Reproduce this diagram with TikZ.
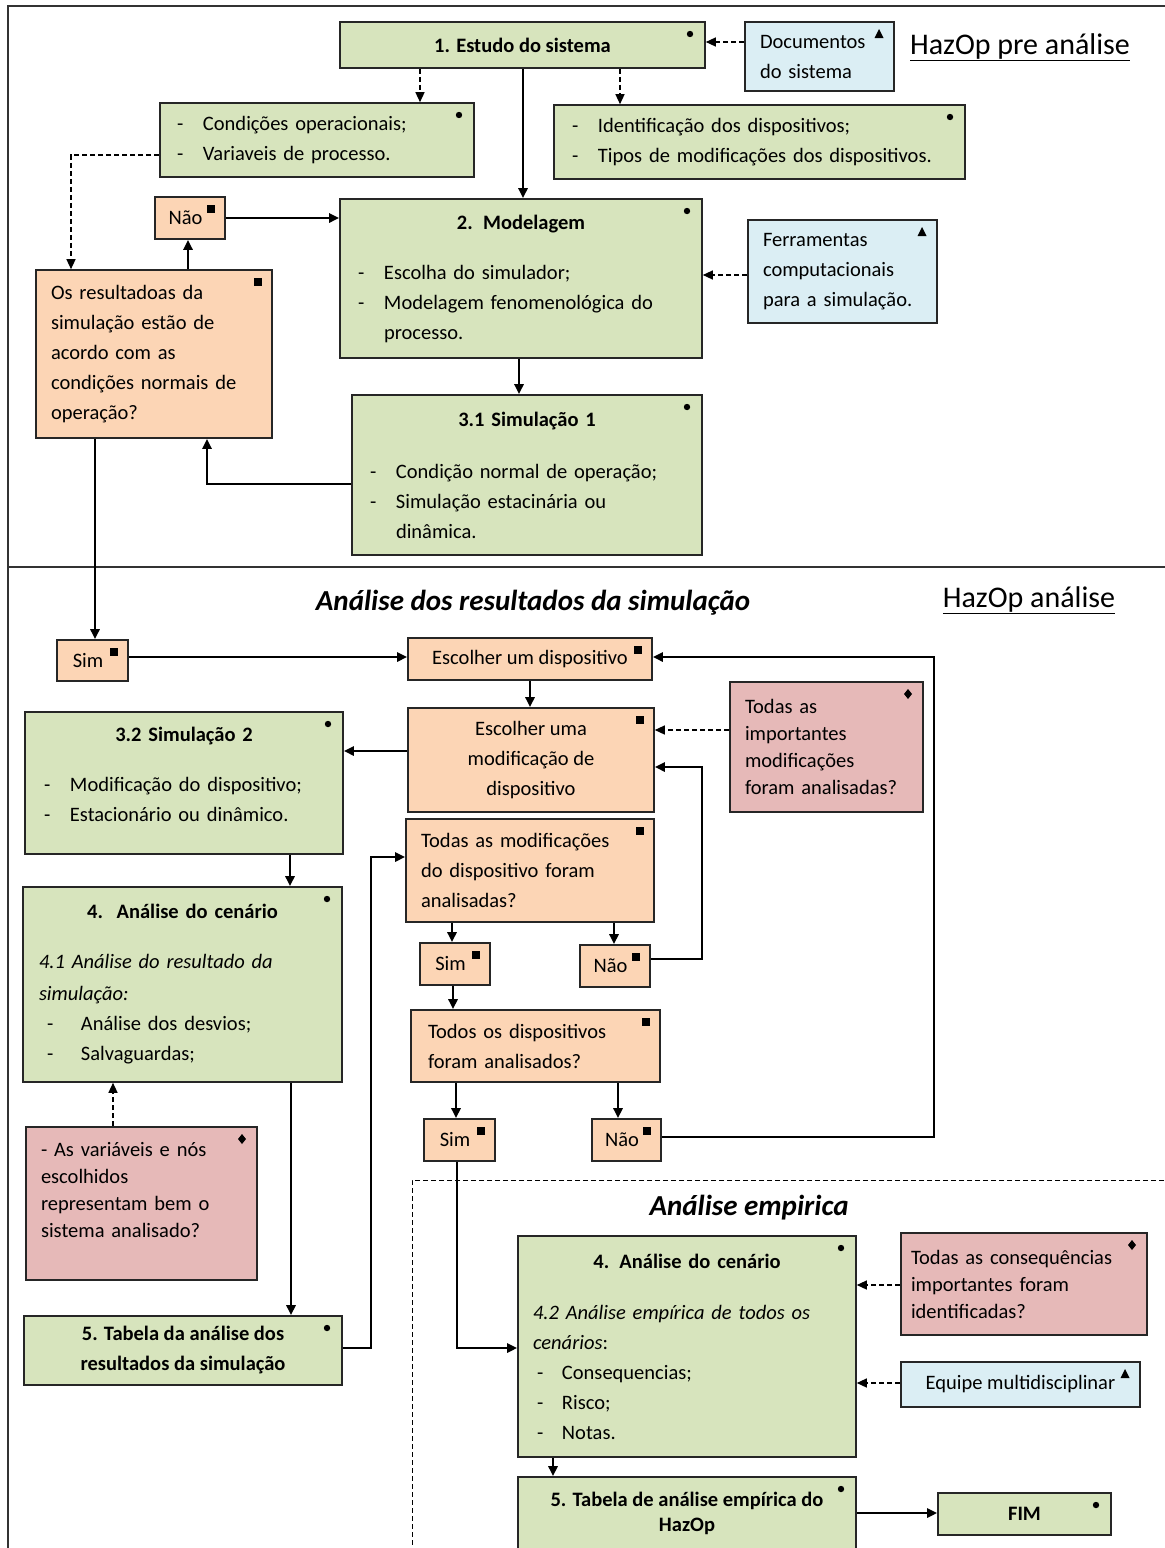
\documentclass[tikz,border=0pt]{standalone}
\usepackage{fontspec}
\setmainfont{Carlito}
\usepackage{tikz}
\usetikzlibrary{arrows.meta}

\definecolor{verdef}{HTML}{D7E4BD}
\definecolor{laranjaf}{HTML}{FCD5B5}
\definecolor{rosaf}{HTML}{E6B9B8}
\definecolor{azulf}{HTML}{DBEEF4}

\newcommand{\boxfont}{\fontsize{20.5}{30}\selectfont}
\newcommand{\titfont}{\fontsize{30}{34}\selectfont}
\newcommand{\itm}[1]{\makebox[26pt][l]{-}#1}
\newcommand{\ttl}[1]{\hfill\textbf{#1}\hfill\null}
\newcommand{\resp}[1]{#1\hspace*{9pt}}

\tikzset{
  caixa/.style={draw=black!85, line width=1.6pt, inner sep=0pt, font=\boxfont},
  verde/.style={caixa, fill=verdef},
  laranja/.style={caixa, fill=laranjaf},
  rosa/.style={caixa, fill=rosaf, font=\fontsize{20.5}{27}\selectfont},
  azul/.style={caixa, fill=azulf},
  seta/.style={->, line width=2.8pt},
  trac/.style={->, line width=1.3pt, dash pattern=on 5pt off 3pt},
  mkdot/.style={path picture={\fill[black] ([shift={(-15pt,-12pt)}]path picture bounding box.north east) circle (3.2pt);}},
  mksq/.style={path picture={\fill[black] ([shift={(-18pt,-16pt)}]path picture bounding box.north east) rectangle ++(8pt,8pt);}},
  mktri/.style={path picture={\fill[black] ([shift={(-15pt,-7pt)}]path picture bounding box.north east) -- ++(-4.5pt,-9pt) -- ++(9pt,0pt) -- cycle;}},
  mkdia/.style={path picture={\fill[black] ([shift={(-15pt,-7pt)}]path picture bounding box.north east) -- ++(4pt,-5pt) -- ++(-4pt,-5pt) -- ++(-4pt,5pt) -- cycle;}},
}

\begin{document}
\begin{tikzpicture}[x=1pt, y=-1pt, >={Triangle[length=10pt,width=9pt]}]
  \useasboundingbox (0,0) rectangle (1165,1548);
  \clip (0,0) rectangle (1165,1548);
  % moldura
  \draw[line width=1.5pt, black!80] (8,6) rectangle (1180,1560);
  \draw[line width=1.5pt, black!80] (8,567) -- (1180,567);
  \draw[line width=1pt, dash pattern=on 5pt off 3pt] (1180,1180) -- (412,1180) -- (412,1560);

  % HazOp pre analise
  \node[verde, mkdot, minimum width=365pt, minimum height=46pt] (estudo) at (522.5,45) {\textbf{1. Estudo do sistema}};
  \node[azul, mktri, minimum width=149pt, minimum height=69pt, text width=119pt, align=left] (docs) at (819.5,56.5) {Documentos\\do sistema};
  \node[font=\titfont] (tpre) at (1020,47) {\underline{HazOp pre análise}};
  \node[verde, mkdot, minimum width=314pt, minimum height=74pt, text width=280pt, align=left] (cond) at (317,140) {\itm{Condições operacionais;}\\\itm{Variaveis de processo.}};
  \node[verde, mkdot, minimum width=411pt, minimum height=74pt, text width=375pt, align=left] (ident) at (759.5,142) {\itm{Identificação dos dispositivos;}\\\itm{Tipos de modificações dos dispositivos.}};
  \node[laranja, mksq, minimum width=70pt, minimum height=42pt] (naoA) at (190,218) {\resp{Não}};
  \node[verde, mkdot, minimum width=362pt, minimum height=159pt, text width=326pt, align=left] (model) at (521,278.5) {\ttl{2. Modelagem}\\[20pt]\itm{Escolha do simulador;}\\\itm{Modelagem fenomenológica do}\\\hspace*{26pt}processo.};
  \node[azul, mktri, minimum width=189pt, minimum height=103pt, text width=159pt, align=left] (ferr) at (842.5,271.5) {Ferramentas\\computacionais\\para a simulação.};
  \node[laranja, mksq, minimum width=236pt, minimum height=168pt, text width=206pt, align=left] (result) at (154,354) {Os resultadoas da\\simulação estão de\\acordo com as\\condições normais de\\operação?};
  \node[verde, mkdot, minimum width=350pt, minimum height=160pt, text width=314pt, align=left] (sim1) at (527,475) {\ttl{3.1 Simulação 1}\\[22pt]\itm{Condição normal de operação;}\\\itm{Simulação estacinária ou}\\\hspace*{26pt}dinâmica.};

  % HazOp analise
  \node[font=\fontsize{29}{34}\selectfont\bfseries\itshape] (tres) at (533,603) {Análise dos resultados da simulação};
  \node[font=\titfont] (tanal) at (1029,600) {\underline{HazOp análise}};
  \node[laranja, mksq, minimum width=71pt, minimum height=41pt] (simA) at (92.5,660.5) {\resp{Sim}};
  \node[laranja, mksq, minimum width=244pt, minimum height=42pt] (escA) at (530,659) {Escolher um dispositivo};
  \node[rosa, mkdia, minimum width=193pt, minimum height=130pt, text width=163pt, align=left] (imp) at (826.5,747) {Todas as\\importantes\\modificações\\foram analisadas?};
  \node[verde, mkdot, minimum width=318pt, minimum height=142pt, text width=280pt, align=left] (sim2) at (184,783) {\ttl{3.2 Simulação 2}\\[20pt]\itm{Modificação do dispositivo;}\\\itm{Estacionário ou dinâmico.}\\[-12pt]\mbox{}};
  \node[laranja, mksq, minimum width=246pt, minimum height=104pt, align=center] (escB) at (531,760) {Escolher uma\\modificação de\\dispositivo};
  \node[laranja, mksq, minimum width=248pt, minimum height=103pt, text width=218pt, align=left] (todasmod) at (530,870.5) {Todas as modificações\\do dispositivo foram\\analisadas?};
  \node[verde, mkdot, minimum width=319pt, minimum height=195pt, text width=287pt, align=left] (cenA) at (182.5,984.5) {\ttl{4.~~Análise do cenário}\\[20pt]\textit{4.1 Análise do resultado da}\\[2pt]\textit{simulação:}\\\hspace*{8pt}\makebox[34pt][l]{-}Análise dos desvios;\\\hspace*{8pt}\makebox[34pt][l]{-}Salvaguardas;};
  \node[laranja, mksq, minimum width=70pt, minimum height=42pt] (simB) at (455,964) {\resp{Sim}};
  \node[laranja, mksq, minimum width=70pt, minimum height=42pt] (naoB) at (615,966) {\resp{Não}};
  \node[laranja, mksq, minimum width=249pt, minimum height=72pt, text width=215pt, align=left] (todosdisp) at (535.5,1046) {Todos os dispositivos\\foram analisados?};
  \node[laranja, mksq, minimum width=71pt, minimum height=42pt] (simC) at (459.5,1140) {\resp{Sim}};
  \node[laranja, mksq, minimum width=69pt, minimum height=42pt] (naoC) at (626.5,1140) {\resp{Não}};
  \node[rosa, mkdia, minimum width=231pt, minimum height=153pt, text width=201pt, align=left] (var) at (141.5,1203.5) {- As variáveis e nós\\escolhidos\\representam bem o\\sistema analisado?\\\mbox{}};
  \node[verde, mkdot, minimum width=318pt, minimum height=69pt, align=center, font=\boxfont\bfseries] (tabA) at (183,1350.5) {5. Tabela da análise dos\\resultados da simulação};

  % Analise empirica
  \node[font=\fontsize{29}{34}\selectfont\bfseries\itshape] (temp) at (749,1208) {Análise empirica};
  \node[verde, mkdot, minimum width=338pt, minimum height=221pt, text width=308pt, align=left] (cenB) at (687,1346.5) {\ttl{4. Análise do cenário}\\[21pt]\textit{4.2 Análise empírica de todos os}\\\textit{cenários}:\\\hspace*{4pt}\makebox[25pt][l]{-}Consequencias;\\\hspace*{4pt}\makebox[25pt][l]{-}Risco;\\\hspace*{4pt}\makebox[25pt][l]{-}Notas.};
  \node[rosa, mkdia, minimum width=246pt, minimum height=102pt, text width=226pt, align=left] (cons) at (1024,1284) {Todas as consequências\\importantes foram\\identificadas?};
  \node[azul, mktri, minimum width=239pt, minimum height=45pt] (equipe) at (1020.5,1384.5) {Equipe multidisciplinar};
  \node[verde, mkdot, minimum width=338pt, minimum height=73pt, align=center, font=\fontsize{20.5}{25}\selectfont\bfseries] (tabB) at (687,1513.5) {5. Tabela de análise empírica do\\HazOp};
  \node[verde, mkdot, minimum width=173pt, minimum height=42pt, font=\boxfont\bfseries] (fim) at (1024.5,1514) {FIM};

  % conectores
  \draw[trac] (estudo.south -| 420,0) -- (cond.north -| 420,0);
  \draw[trac] (estudo.south -| 620,0) -- (ident.north -| 620,0);
  \draw[seta] (estudo.south -| 523,0) -- (model.north -| 523,0);
  \draw[trac] (docs.west |- 0,42) -- (estudo.east |- 0,42);
  \draw[trac] (cond.west |- 0,155) -| (result.north -| 71,0);
  \draw[seta] (result.north -| 188,0) -- (naoA.south -| 188,0);
  \draw[seta] (naoA.east) -- (model.west |- naoA.east);
  \draw[trac] (ferr.west |- 0,275) -- (model.east |- 0,275);
  \draw[seta] (model.south -| 519,0) -- (sim1.north -| 519,0);
  \draw[seta] (sim1.west |- 0,484) -| (result.south -| 207,0);
  \draw[seta] (result.south -| 95,0) -- (simA.north -| 95,0);
  \draw[seta] (simA.east |- 0,657) -- (escA.west |- 0,657);
  \draw[seta] (escA.south -| 530,0) -- (escB.north -| 530,0);
  \draw[trac] (imp.west |- 0,730) -- (escB.east |- 0,730);
  \draw[seta] (escB.west |- 0,751) -- (sim2.east |- 0,751);
  \draw[seta] (sim2.south -| 290,0) -- (cenA.north -| 290,0);
  \draw[seta] (cenA.south -| 291,0) -- (tabA.north -| 291,0);
  \draw[trac] (var.north -| 113,0) -- (cenA.south -| 113,0);
  \draw[seta] (tabA.east |- 0,1348) -| (371,857) -- (todasmod.west |- 0,857);
  \draw[seta] (todasmod.south -| 452,0) -- (simB.north -| 452,0);
  \draw[seta] (todasmod.south -| 614,0) -- (naoB.north -| 614,0);
  \draw[seta] (naoB.east |- 0,959) -| (702,767) -- (escB.east |- 0,767);
  \draw[seta] (simB.south -| 453,0) -- (todosdisp.north -| 453,0);
  \draw[seta] (todosdisp.south -| 456,0) -- (simC.north -| 456,0);
  \draw[seta] (todosdisp.south -| 618,0) -- (naoC.north -| 618,0);
  \draw[seta] (naoC.east |- 0,1137) -| (934,657) -- (escA.east |- 0,657);
  \draw[seta] (simC.south -| 457,0) |- (cenB.west |- 0,1348);
  \draw[trac] (cons.west |- 0,1285) -- (cenB.east |- 0,1285);
  \draw[trac] (equipe.west |- 0,1383) -- (cenB.east |- 0,1383);
  \draw[seta] (cenB.south -| 553,0) -- (tabB.north -| 553,0);
  \draw[seta] (tabB.east |- 0,1513) -- (fim.west |- 0,1513);
\end{tikzpicture}
\end{document}
